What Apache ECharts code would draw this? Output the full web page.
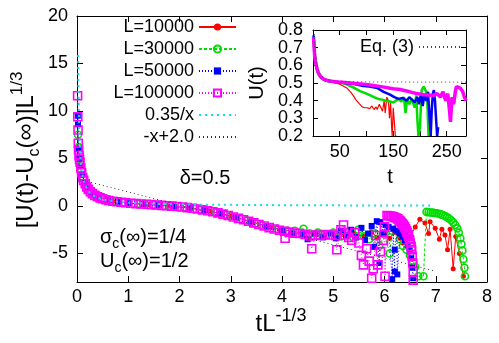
<!DOCTYPE html>
<html><head><meta charset="utf-8">
<script src="https://cdn.jsdelivr.net/npm/echarts@6/dist/echarts.min.js"></script>
<style>html,body{margin:0;padding:0;background:#fff}#c{width:499px;height:343px}</style>
</head><body><div id="c"></div>
<script>
// ---------- main plot data: x = t L^-1/3, y = [U(t)-Uc(inf)] L^1/3 ----------
const mainL10000 = [[0.03,6.0],[0.05,4.9],[0.1,3.2],[0.2,1.9],[0.4,1.0],[0.7,0.5],[1.0,0.3],[1.4,0.15],[1.8,0.0],[2.2,-0.22],[2.6,-0.55],[3.0,-1.05],[3.4,-1.65],[3.8,-2.25],[4.2,-2.7],[4.6,-2.9],[5.0,-2.9],[5.2,-3.0],[5.4,-2.9],[5.6,-3.2],[5.75,-2.7],[5.85,-3.3],[6.0,-2.7],[6.1,-3.4],[6.2,-2.8],[6.3,-3.4],[6.35,-3.9],[6.42,-2.9],[6.5,-3.2],[6.6,-2.2],[6.69,-1.4],[6.79,-1.8],[6.86,-2.9],[6.89,-1.65],[6.99,-2.35],[7.07,-3.5],[7.12,-2.45],[7.18,-3.05],[7.23,-4.6],[7.28,-2.45],[7.34,-6.6],[7.39,-3.2],[7.46,-5.0],[7.54,-7.4]];
const mainL30000 = [[0.02,7.5],[0.03,6.2],[0.05,4.9],[0.08,3.8],[0.12,2.9],[0.18,2.1],[0.25,1.6],[0.35,1.15],[0.5,0.8],[0.7,0.5],[0.9,0.36],[1.2,0.22],[1.5,0.12],[1.8,0.0],[2.1,-0.15],[2.4,-0.38],[2.7,-0.68],[3.0,-1.05],[3.3,-1.5],[3.6,-2.0],[3.9,-2.4],[4.1,-2.6],[4.25,-2.6],[4.42,-2.4],[4.55,-2.9],[4.7,-2.8],[4.85,-3.1],[5.0,-2.8],[5.15,-3.2],[5.3,-2.7],[5.4,-3.4],[5.49,-2.5],[5.6,-3.2],[5.7,-3.5],[5.8,-2.9],[5.9,-4.2],[6.0,-3.0],[6.1,-5.0],[6.15,-2.6],[6.24,-2.35],[6.3,-3.5],[6.36,-4.2],[6.43,-4.6],[6.5,-5.2],[6.56,-5.9],[6.6,-6.4],[6.66,-7.4],[6.76,-7.4],[6.82,-0.62],[6.86,-0.66],[6.9,-0.68],[6.94,-0.7],[6.98,-0.73],[7.02,-0.77],[7.06,-0.82],[7.1,-0.88],[7.14,-0.95],[7.18,-1.05],[7.22,-1.17],[7.26,-1.32],[7.3,-1.5],[7.34,-1.72],[7.38,-2.0],[7.42,-2.35],[7.45,-2.8],[7.48,-3.4],[7.5,-4.0],[7.52,-4.7],[7.54,-5.6],[7.56,-6.5],[7.57,-7.4]];
const mainL50000 = [[0.015,9.5],[0.02,8.6],[0.03,6.0],[0.045,5.0],[0.07,4.2],[0.1,3.3],[0.15,2.5],[0.2,1.9],[0.3,1.3],[0.4,1.0],[0.6,0.65],[0.8,0.45],[1.0,0.3],[1.3,0.2],[1.6,0.08],[1.9,-0.05],[2.2,-0.2],[2.5,-0.45],[2.8,-0.8],[3.1,-1.2],[3.4,-1.7],[3.7,-2.2],[4.0,-2.6],[4.2,-2.9],[4.4,-3.0],[4.5,-3.5],[4.65,-2.9],[4.8,-3.3],[4.95,-2.9],[5.05,-3.4],[5.15,-2.6],[5.25,-3.1],[5.35,-2.5],[5.45,-3.3],[5.55,-2.3],[5.62,-3.6],[5.68,-2.9],[5.75,-2.1],[5.8,-4.3],[5.85,-1.6],[5.9,-6.0],[5.92,-1.7],[5.98,-2.9],[6.02,-2.0],[6.08,-2.2],[6.15,-7.7],[6.17,-2.4],[6.2,-6.9],[6.2,-4.6],[6.24,-2.6],[6.25,-7.2],[6.3,-2.9],[6.35,-3.2],[6.4,-3.6],[6.45,-4.1],[6.49,-4.7],[6.52,-5.5],[6.54,-6.5],[6.56,-7.6]];
const mainL100000 = [[0.012,11.6],[0.016,9.4],[0.02,8.0],[0.025,6.6],[0.03,5.9],[0.04,5.3],[0.05,4.9],[0.06,4.6],[0.075,4.0],[0.09,3.5],[0.11,3.0],[0.13,2.7],[0.16,2.35],[0.19,2.0],[0.22,1.75],[0.26,1.5],[0.3,1.3],[0.35,1.12],[0.4,0.97],[0.45,0.86],[0.5,0.76],[0.56,0.66],[0.62,0.58],[0.7,0.5],[0.78,0.44],[0.86,0.39],[0.95,0.34],[1.05,0.29],[1.15,0.25],[1.25,0.21],[1.35,0.18],[1.45,0.15],[1.55,0.11],[1.65,0.07],[1.75,0.03],[1.85,-0.01],[1.95,-0.06],[2.05,-0.11],[2.15,-0.17],[2.25,-0.24],[2.35,-0.32],[2.45,-0.41],[2.55,-0.5],[2.65,-0.6],[2.75,-0.72],[2.85,-0.86],[2.95,-1.0],[3.05,-1.15],[3.15,-1.3],[3.25,-1.45],[3.35,-1.6],[3.45,-1.78],[3.55,-1.95],[3.65,-2.1],[3.75,-2.28],[3.85,-2.42],[3.95,-2.55],[4.05,-2.65],[4.06,-3.4],[4.15,-2.75],[4.25,-2.85],[4.35,-2.9],[4.45,-3.0],[4.55,-3.15],[4.58,-4.5],[4.65,-3.05],[4.75,-3.1],[4.85,-3.0],[4.95,-3.05],[5.05,-3.1],[5.07,-4.6],[5.15,-2.5],[5.2,-2.0],[5.23,-3.05],[5.3,-3.3],[5.36,-3.6],[5.42,-2.8],[5.5,-3.9],[5.55,-5.2],[5.59,-6.2],[5.65,-4.5],[5.7,-5.8],[5.75,-7.6],[5.78,-6.6],[5.83,-3.1],[5.87,-6.2],[5.92,-4.8],[5.98,-3.6],[6.0,-2.2],[6.01,-7.4],[6.05,-1.0],[6.08,-1.02],[6.11,-1.05],[6.14,-1.08],[6.17,-1.13],[6.2,-1.2],[6.23,-1.27],[6.26,-1.36],[6.29,-1.5],[6.31,-1.62],[6.33,-1.75],[6.35,-1.88],[6.37,-2.0],[6.39,-2.2],[6.41,-2.4],[6.43,-2.6],[6.44,-2.8],[6.46,-3.0],[6.47,-3.2],[6.49,-3.55],[6.5,-3.9],[6.52,-4.25],[6.53,-4.6],[6.54,-5.3],[6.55,-6.0],[6.56,-6.9],[6.56,-7.8]];
const fitX = [0.022,0.025,0.03,0.035,0.04,0.05,0.06,0.07,0.08,0.1,0.12,0.15,0.2,0.25,0.3,0.4,0.5,0.6,0.8,1.0,1.3,1.6,2.0,2.5,3.0,3.5,4.0,4.5,5.0,5.5,6.0,6.5,6.9];
const fitY = [15.9,14.0,11.67,10.0,8.75,7.0,5.83,5.0,4.38,3.5,2.92,2.33,1.75,1.4,1.17,0.88,0.7,0.58,0.44,0.35,0.27,0.22,0.18,0.14,0.12,0.1,0.09,0.08,0.07,0.06,0.06,0.05,0.05];
// -x+2.0 guide line end points (as drawn)
const lineX = [0.05, 6.95];
const lineY = [2.8, -6.8];

// ---------- inset data: t, U(t) ----------
const insetL10000 = [[1,0.75],[3,0.66],[5,0.6],[8,0.56],[12,0.535],[20,0.515],[30,0.508],[40,0.502],[46,0.498],[52,0.49],[58,0.48],[64,0.47],[70,0.45],[75,0.43],[80,0.406],[86,0.385],[92,0.365],[97,0.36],[101,0.36],[106,0.355],[110,0.37],[114,0.35],[118,0.365],[120,0.35],[124,0.38],[126,0.385],[130,0.34],[133,0.4],[135,0.33],[138,0.42],[141,0.4],[143,0.3],[145,0.39],[147,0.25],[148,0.2],[150,0.36],[152,0.28],[154,0.2],[156,0.2]];
const insetL30000 = [[1,0.76],[3,0.66],[6,0.59],[10,0.55],[15,0.53],[25,0.512],[40,0.505],[55,0.5],[65,0.49],[75,0.475],[89,0.453],[100,0.44],[114,0.42],[122,0.41],[129,0.406],[136,0.4],[144,0.395],[150,0.39],[155,0.4],[160,0.41],[165,0.395],[170,0.42],[173,0.33],[176,0.41],[180,0.38],[185,0.41],[190,0.36],[193,0.43],[195,0.3],[197,0.2],[200,0.25],[203,0.46],[207,0.48],[210,0.47],[213,0.44],[216,0.2]];
const insetL50000 = [[1,0.77],[4,0.64],[8,0.57],[15,0.53],[25,0.512],[40,0.505],[60,0.5],[75,0.495],[90,0.485],[105,0.48],[120,0.472],[132,0.45],[144,0.434],[152,0.42],[160,0.41],[168,0.415],[175,0.4],[180,0.42],[185,0.406],[190,0.39],[195,0.42],[198,0.38],[202,0.44],[205,0.37],[208,0.43],[212,0.4],[215,0.45],[218,0.3],[220,0.2],[222,0.35],[224,0.44],[226,0.46],[228,0.4],[230,0.3],[232,0.2],[234,0.25]];
const insetL100000 = [[1,0.76],[2,0.7],[3,0.66],[4,0.63],[6,0.6],[8,0.575],[11,0.55],[15,0.535],[20,0.522],[25,0.516],[35,0.51],[50,0.505],[70,0.5],[90,0.495],[110,0.487],[130,0.478],[150,0.468],[163,0.463],[175,0.455],[185,0.447],[194,0.44],[205,0.435],[215,0.432],[225,0.43],[232,0.44],[238,0.42],[243,0.45],[248,0.4],[252,0.44],[255,0.35],[257,0.28],[260,0.42],[263,0.38],[266,0.45],[268,0.48],[272,0.475],[276,0.47],[280,0.45],[283,0.42],[286,0.4]];
const eq3T = [2,3,5,8,12,16,22,30,40,60,100,200,286];
const eq3U = [0.8,0.72,0.65,0.6,0.56,0.54,0.525,0.516,0.512,0.508,0.506,0.505,0.505];

// ---------- tick values ----------
const mainXTicks = [0,1,2,3,4,5,6,7,8];
const mainYTicks = [-5,0,5,10,15,20];
const insetXTicks = [50,100,150,200,250];
const insetXLabels = [50,150,250];
const insetYTicks = [0.2,0.3,0.4,0.5,0.6,0.7,0.8];
const insetYLabelsA = [0.2,0.4,0.6,0.8];
const insetYLabelsB = [0.3,0.5,0.7];

const FONT = 'Liberation Sans, Arial, Helvetica, sans-serif';
const BLACK = '#000';
const zip = (a, b) => a.map((v, i) => [v, b[i]]);

const chart = echarts.init(document.getElementById('c'), null, {renderer: 'canvas'});

function xAx(grid, pos, min, max, ticks, labels, tickLen, margin) {
  return {
    gridIndex: grid, type: 'value', position: pos, min: min, max: max,
    axisLine: {show: true, onZero: false, lineStyle: {color: BLACK, width: 1}},
    axisTick: {show: true, inside: true, length: tickLen, customValues: ticks, lineStyle: {color: BLACK, width: 1}},
    axisLabel: labels ? {show: true, customValues: labels, showMinLabel: true, showMaxLabel: true, color: BLACK, fontSize: 18, fontFamily: FONT, margin: margin} : {show: false},
    splitLine: {show: false}
  };
}
function yAx(grid, pos, min, max, ticks, labels, tickLen, margin, fmt, showLine) {
  return {
    gridIndex: grid, type: 'value', position: pos, min: min, max: max, offset: 0,
    axisLine: {show: showLine !== false, onZero: false, lineStyle: {color: BLACK, width: 1}},
    axisTick: ticks ? {show: true, inside: true, length: tickLen, customValues: ticks, lineStyle: {color: BLACK, width: 1}} : {show: false},
    axisLabel: labels ? {show: true, customValues: labels, showMinLabel: true, showMaxLabel: true, hideOverlap: false, color: BLACK, fontSize: 18, fontFamily: FONT, margin: margin, formatter: fmt} : {show: false},
    splitLine: {show: false}
  };
}
const fmt1 = v => Number(v).toFixed(1);

const mainSeries = (name, data, color, lineType, symbol, size, empty, z) => ({
  name: name, type: 'line', xAxisIndex: 0, yAxisIndex: 0, data: data,
  symbol: symbol, symbolSize: size, showSymbol: true, z: z,
  lineStyle: {color: color, width: 1, type: lineType},
  itemStyle: empty ? {color: 'rgba(255,255,255,0)', borderColor: color, borderWidth: 1.6} : {color: color, borderWidth: 0},
  emphasis: {disabled: true}, animation: false
});
const insetSeries = (name, data, color, width, lineType, z) => ({
  name: name, type: 'line', xAxisIndex: 2, yAxisIndex: 2, data: data,
  symbol: 'none', z: z,
  lineStyle: {color: color, width: width, type: lineType},
  emphasis: {disabled: true}, animation: false
});

const option = {
  backgroundColor: '#fff',
  animation: false,
  grid: [
    {left: 77, top: 16, width: 410, height: 266, containLabel: false},
    {left: 313, top: 30, width: 153, height: 106, containLabel: false}
  ],
  xAxis: [
    xAx(0, 'bottom', 0, 8, mainXTicks, mainXTicks, 6, 6),
    xAx(0, 'top', 0, 8, mainXTicks, null, 6, 0),
    xAx(1, 'bottom', 0, 286, insetXTicks, insetXLabels, 5, 7),
    xAx(1, 'top', 0, 286, insetXTicks, null, 5, 0)
  ],
  yAxis: [
    yAx(0, 'left', -8, 20, mainYTicks, mainYTicks, 6, 9, v => String(v)),
    yAx(0, 'right', -8, 20, mainYTicks, null, 6, 0),
    yAx(1, 'left', 0.2, 0.8, insetYTicks, insetYLabelsA, 5, 10, fmt1),
    yAx(1, 'right', 0.2, 0.8, insetYTicks, null, 5, 0),
    yAx(1, 'left', 0.2, 0.8, null, insetYLabelsB, 5, 10, fmt1, false)
  ],
  legend: [
    {
      data: ['L=10000', 'L=30000', 'L=50000', 'L=100000', '0.35/x', '-x+2.0'],
      orient: 'vertical', align: 'right', right: 262, top: 18, padding: 0,
      itemWidth: 37, itemHeight: 9, itemGap: 4, selectedMode: false,
      textStyle: {fontSize: 18, fontFamily: FONT, color: BLACK, lineHeight: 18}
    },
    {
      data: ['Eq. (3)'],
      orient: 'vertical', align: 'right', right: 36, top: 38, padding: 0,
      itemWidth: 43, itemHeight: 9, selectedMode: false,
      textStyle: {fontSize: 18, fontFamily: FONT, color: BLACK, lineHeight: 18}
    }
  ],
  series: [
    mainSeries('L=10000', mainL10000, '#ff0000', 'solid', 'circle', 5, false, 2),
    mainSeries('L=30000', mainL30000, '#00dd00', [3, 2], 'circle', 7, true, 3),
    mainSeries('L=50000', mainL50000, '#0000ff', [1, 2], 'rect', 6, false, 4),
    mainSeries('L=100000', mainL100000, '#ff00ff', [1, 2], 'rect', 8, true, 5),
    {name: '0.35/x', type: 'line', xAxisIndex: 0, yAxisIndex: 0, data: zip(fitX, fitY), symbol: 'none', z: 6,
     itemStyle: {color: '#11dde8', opacity: 0},
     lineStyle: {color: '#11dde8', width: 2, type: [2, 4]}, emphasis: {disabled: true}},
    {name: '-x+2.0', type: 'line', xAxisIndex: 0, yAxisIndex: 0, data: zip(lineX, lineY), symbol: 'none', z: 7,
     itemStyle: {color: '#333', opacity: 0},
     lineStyle: {color: '#333', width: 1, type: [1, 3]}, emphasis: {disabled: true}},
    insetSeries('inset L=10000', insetL10000, '#ff0000', 1.2, 'solid', 3),
    insetSeries('inset L=30000', insetL30000, '#00dd00', 2.5, 'solid', 4),
    insetSeries('inset L=50000', insetL50000, '#0000ff', 2.5, 'solid', 5),
    insetSeries('inset L=100000', insetL100000, '#ff00ff', 3.5, 'solid', 6),
    {name: 'Eq. (3)', type: 'line', xAxisIndex: 2, yAxisIndex: 2, data: zip(eq3T, eq3U), symbol: 'none', z: 7,
     itemStyle: {color: '#444', opacity: 0},
     lineStyle: {color: '#444', width: 1, type: [1, 3]}, emphasis: {disabled: true}}
  ],
  graphic: [
    {type: 'text', x: 26, y: 150, rotation: Math.PI / 2, z: 100,
     style: {text: '{a|[U(t)-U}{b|c}{a|(∞)]L}{s|1/3}', align: 'center', verticalAlign: 'middle', fill: BLACK,
       rich: {a: {fontSize: 24, fontFamily: FONT, lineHeight: 34, fill: BLACK},
              b: {fontSize: 16, fontFamily: FONT, lineHeight: 16, verticalAlign: 'bottom', fill: BLACK},
              s: {fontSize: 17, fontFamily: FONT, lineHeight: 17, verticalAlign: 'top', fill: BLACK}}}},
    {type: 'text', x: 281, y: 324, z: 100,
     style: {text: '{a|tL}{s|-1/3}', align: 'center', verticalAlign: 'middle', fill: BLACK,
       rich: {a: {fontSize: 24, fontFamily: FONT, lineHeight: 34, fill: BLACK},
              s: {fontSize: 18, fontFamily: FONT, lineHeight: 18, verticalAlign: 'top', fill: BLACK}}}},
    {type: 'text', x: 205, y: 178, z: 100,
     style: {text: 'δ=0.5', align: 'center', verticalAlign: 'middle', fill: BLACK, fontSize: 20, fontFamily: FONT}},
    {type: 'text', x: 100, y: 237, z: 100,
     style: {text: '{a|σ}{b|c}{a|(∞)=1/4}', align: 'left', verticalAlign: 'middle', fill: BLACK,
       rich: {a: {fontSize: 20, fontFamily: FONT, lineHeight: 28, fill: BLACK},
              b: {fontSize: 14, fontFamily: FONT, lineHeight: 14, verticalAlign: 'bottom', fill: BLACK}}}},
    {type: 'text', x: 100, y: 261, z: 100,
     style: {text: '{a|U}{b|c}{a|(∞)=1/2}', align: 'left', verticalAlign: 'middle', fill: BLACK,
       rich: {a: {fontSize: 20, fontFamily: FONT, lineHeight: 28, fill: BLACK},
              b: {fontSize: 14, fontFamily: FONT, lineHeight: 14, verticalAlign: 'bottom', fill: BLACK}}}},
    {type: 'text', x: 257, y: 83, rotation: Math.PI / 2, z: 100,
     style: {text: 'U(t)', align: 'center', verticalAlign: 'middle', fill: BLACK, fontSize: 20, fontFamily: FONT}},
    {type: 'text', x: 390, y: 177, z: 100,
     style: {text: 't', align: 'center', verticalAlign: 'middle', fill: BLACK, fontSize: 20, fontFamily: FONT}}
  ]
};
chart.setOption(option);
</script>
</body></html>
